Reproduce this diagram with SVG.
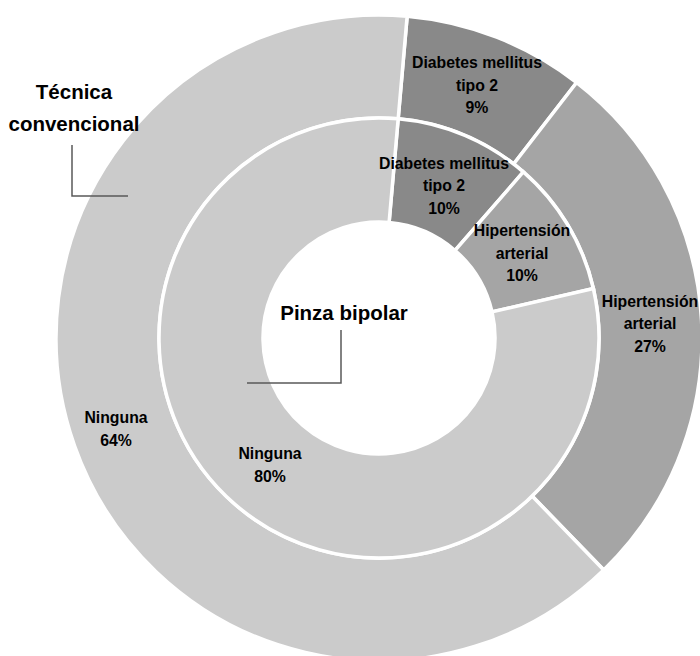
<svg xmlns="http://www.w3.org/2000/svg" width="700" height="656" viewBox="0 0 700 656">
<style>
.sl{stroke:#ffffff;stroke-width:3.5;stroke-linejoin:miter}
.dm{fill:#898989}
.ht{fill:#a5a5a5}
.ng{fill:#cbcbcb}
.lb{font-family:"Liberation Sans",Arial,sans-serif;font-weight:bold;font-size:15.8px;fill:#000000;text-anchor:middle}
.tt{font-family:"Liberation Sans",Arial,sans-serif;font-weight:bold;font-size:20.5px;fill:#000000;text-anchor:middle}
.ld{fill:none;stroke:#595959;stroke-width:1.5}
</style>
<rect width="700" height="656" fill="#ffffff"/>
<g id="outer-ring">
<path id="outer-diabetes" class="sl dm" d="M 407.15,16.23 A 323 323 0 0 1 576.67,82.52 L 513.64,163.99 A 220 220 0 0 0 398.17,118.84 Z"/>
<path id="outer-hipertension" class="sl ht" d="M 576.67,82.52 A 323 323 0 0 1 603.74,570.00 L 532.07,496.02 A 220 220 0 0 0 513.64,163.99 Z"/>
<path id="outer-ninguna" class="sl ng" d="M 603.74,570.00 A 323 323 0 1 1 407.15,16.23 L 398.17,118.84 A 220 220 0 1 0 532.07,496.02 Z"/>
</g>
<g id="inner-ring">
<path id="inner-diabetes" class="sl dm" d="M 398.17,118.84 A 220 220 0 0 1 523.33,171.96 L 455.10,250.45 A 116 116 0 0 0 389.11,222.44 Z"/>
<path id="inner-hipertension" class="sl ht" d="M 523.33,171.96 A 220 220 0 0 1 593.36,288.51 L 492.03,311.91 A 116 116 0 0 0 455.10,250.45 Z"/>
<path id="inner-ninguna" class="sl ng" d="M 593.36,288.51 A 220 220 0 1 1 398.17,118.84 L 389.11,222.44 A 116 116 0 1 0 492.03,311.91 Z"/>
</g>
<g id="labels">
<g id="label-outer-diabetes">
<text class="lb" x="477" y="68">Diabetes mellitus</text>
<text class="lb" x="477" y="91">tipo 2</text>
<text class="lb" x="477" y="113">9%</text>
</g>
<g id="label-outer-hipertension">
<text class="lb" x="650" y="307">Hipertensión</text>
<text class="lb" x="650" y="329">arterial</text>
<text class="lb" x="650" y="352">27%</text>
</g>
<g id="label-outer-ninguna">
<text class="lb" x="116" y="423">Ninguna</text>
<text class="lb" x="116" y="446">64%</text>
</g>
<g id="label-inner-diabetes">
<text class="lb" x="444" y="169">Diabetes mellitus</text>
<text class="lb" x="444" y="191">tipo 2</text>
<text class="lb" x="444" y="214">10%</text>
</g>
<g id="label-inner-hipertension">
<text class="lb" x="522" y="236">Hipertensión</text>
<text class="lb" x="522" y="259">arterial</text>
<text class="lb" x="522" y="281">10%</text>
</g>
<g id="label-inner-ninguna">
<text class="lb" x="270" y="459">Ninguna</text>
<text class="lb" x="270" y="482">80%</text>
</g>
</g>
<g id="title-tecnica">
<text class="tt" x="74" y="99">Técnica</text>
<text class="tt" x="74" y="131">convencional</text>
</g>
<g id="title-pinza">
<text class="tt" x="344" y="320">Pinza bipolar</text>
</g>
<g id="connectors">
<polyline class="ld" points="72,145 72,196 128,196"/>
<polyline class="ld" points="341,330 341,383 247,383"/>
</g>
</svg>
